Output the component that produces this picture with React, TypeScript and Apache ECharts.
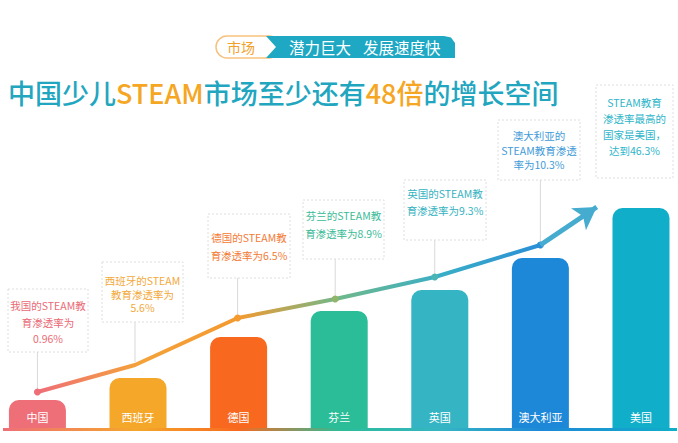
import React, { useEffect, useRef } from "react";
import * as echarts from "echarts";

const categories = ["中国", "西班牙", "德国", "芬兰", "英国", "澳大利亚", "美国"];
// illustrative bar heights (visual index, not proportional to the rates)
const barHeights = [28, 50, 91, 117, 138, 170, 220];
const barColors = ["#ee6f78", "#f5a72a", "#f8691f", "#2bbd98", "#35b5c3", "#1e88d8", "#10aec8"];
// trend line through the countries (x = category position, y = visual index)
const lineX = [0, 0.97, 1.99, 2.96, 3.95, 5.0];
const lineY = [36, 63, 110, 129, 151, 183];
const lineDotColors = ["#ee6e78", "", "#f39a30", "#8fb46a", "#4ab5b5", "#2a8fd6"];
const arrowTip = [5.56, 221];
const annotationLines = [
  ["我国的STEAM教", "育渗透率为", "0.96%"],
  ["西班牙的STEAM", "教育渗透率为", "5.6%"],
  ["德国的STEAM教", "育渗透率为6.5%"],
  ["芬兰的STEAM教", "育渗透率为8.9%"],
  ["英国的STEAM教", "育渗透率为9.3%"],
  ["澳大利亚的", "STEAM教育渗透", "率为10.3%"],
  ["STEAM教育", "渗透率最高的", "国家是美国，", "达到46.3%"],
];
const annotationColors = ["#ea6a75", "#f2a93b", "#f37a35", "#3bbb98", "#36b2c2", "#3f9bd8", "#2eb5c9"];

const boxLayout = [
  { x: 8, y: 289, w: 80, h: 63, ty: 322, lh: 16.5 },
  { x: 102, y: 262, w: 81, h: 60, ty: 294, lh: 13.5 },
  { x: 208, y: 214, w: 82, h: 64, ty: 246, lh: 18 },
  { x: 303, y: 200, w: 81, h: 59, ty: 224, lh: 18 },
  { x: 404, y: 180, w: 82, h: 60, ty: 202, lh: 17 },
  { x: 498, y: 120, w: 82, h: 60, ty: 150, lh: 14.5 },
  { x: 596, y: 85, w: 77, h: 93, ty: 126, lh: 16 },
];

const FONT = '"Noto Sans CJK SC", "Noto Sans", sans-serif';
const X_MIN = -0.372;
const X_MAX = 6.368;

export default function App() {
  const ref = useRef<HTMLDivElement>(null);
  useEffect(() => {
    if (!ref.current) return;
    const chart = echarts.init(ref.current, null, { renderer: "svg" });
    const lineGrad = new echarts.graphic.LinearGradient(0, 0, 1, 0, [
      { offset: 0, color: "#ee6e78" },
      { offset: 0.2, color: "#f4a23a" },
      { offset: 0.4, color: "#f39a30" },
      { offset: 0.6, color: "#6fb88a" },
      { offset: 0.8, color: "#3aaec6" },
      { offset: 1, color: "#2a8fd6" },
    ]);
    chart.setOption({
      animation: false,
      backgroundColor: "#ffffff",
      textStyle: { fontFamily: FONT },
      grid: { left: 0, right: 0, top: 128, bottom: 15, containLabel: false },
      xAxis: { type: "value", min: X_MIN, max: X_MAX, show: false },
      yAxis: { type: "value", min: 0, max: 300, show: false },
      series: [
        {
          type: "bar",
          barWidth: 57,
          data: barHeights.map((v, i) => ({ value: [i, v], itemStyle: { color: barColors[i] } })),
          itemStyle: { borderRadius: [10, 10, 0, 0] },
          label: {
            show: true,
            position: "insideBottom",
            distance: 6,
            formatter: (p: any) => categories[p.dataIndex],
            color: "#ffffff",
            fontSize: 11,
            fontFamily: FONT,
          },
          z: 2,
        },
        {
          type: "line",
          data: lineX.map((x, i) => ({
            value: [x, lineY[i]],
            symbolSize: lineDotColors[i] ? 7 : 0,
            itemStyle: { color: lineDotColors[i] || "#f4a23a" },
          })),
          symbol: "circle",
          showSymbol: true,
          lineStyle: { width: 4, color: lineGrad },
          z: 4,
          markLine: {
            silent: true,
            symbol: ["none", "arrow"],
            symbolSize: [20, 22],
            label: { show: false },
            lineStyle: { color: "#45acd0", width: 5, type: "solid" },
            data: [[{ coord: [lineX[5], lineY[5]] }, { coord: arrowTip }]],
          },
        },
      ],
    });

    const graphic: any[] = [];
    // header pill
    graphic.push({
      type: "rect",
      shape: { x: 216, y: 36, width: 64, height: 22, r: 11 },
      style: { fill: "#ffffff", stroke: "#f6c27e", lineWidth: 1.5 },
    });
    graphic.push({
      type: "text",
      x: 241,
      y: 47,
      style: { text: "市场", fill: "#f2a12a", fontSize: 14, fontFamily: FONT, align: "center", verticalAlign: "middle" },
    });
    graphic.push({
      type: "polygon",
      shape: {
        points: [
          [266, 36],
          [444, 36],
          [451, 37.5],
          [455, 43],
          [455, 58],
          [266, 58],
          [276, 47],
        ],
      },
      style: { fill: "#1ea8c3" },
    });
    graphic.push({
      type: "text",
      x: 289,
      y: 47,
      style: { text: "潜力巨大", fill: "#ffffff", fontSize: 15.5, fontFamily: FONT, align: "left", verticalAlign: "middle" },
    });
    graphic.push({
      type: "text",
      x: 363,
      y: 47,
      style: { text: "发展速度快", fill: "#ffffff", fontSize: 15.5, fontFamily: FONT, align: "left", verticalAlign: "middle" },
    });
    // title
    graphic.push({
      type: "text",
      x: 8,
      y: 92,
      style: {
        text: "{a|中国少儿}{b|STEAM}{a|市场至少还有}{b|48倍}{a|的增长空间}",
        align: "left",
        verticalAlign: "middle",
        rich: {
          a: { fill: "#22a6bf", color: "#22a6bf", fontSize: 27, fontWeight: 500, fontFamily: FONT },
          b: { fill: "#f5a623", color: "#f5a623", fontSize: 27, fontWeight: 500, fontFamily: FONT },
        },
      },
    });
    // bottom gradient strip
    graphic.push({
      type: "rect",
      shape: { x: 3, y: 428, width: 674, height: 3 },
      style: {
        fill: new echarts.graphic.LinearGradient(0, 0, 1, 0, [
          { offset: 0, color: "#ee6f78" },
          { offset: 0.2, color: "#f5a72a" },
          { offset: 0.35, color: "#f8691f" },
          { offset: 0.5, color: "#2bbd98" },
          { offset: 0.65, color: "#35b5c3" },
          { offset: 0.8, color: "#1e88d8" },
          { offset: 1, color: "#10aec8" },
        ]),
      },
    });
    // connectors
    lineX.forEach((x, i) => {
      const p = chart.convertToPixel({ gridIndex: 0 } as any, [x, lineY[i]]) as number[];
      const b = boxLayout[i];
      if (!p) return;
      graphic.push({
        type: "line",
        shape: { x1: p[0], y1: b.y + b.h, x2: p[0], y2: p[1] - 3 },
        style: { stroke: "#d9d9d9", lineWidth: 1 },
        z: 1,
      });
    });
    // annotation boxes
    boxLayout.forEach((b, i) => {
      graphic.push({
        type: "rect",
        shape: { x: b.x, y: b.y, width: b.w, height: b.h },
        style: { fill: "#ffffff", stroke: "#dedede", lineWidth: 1, lineDash: [2, 2] },
      });
      graphic.push({
        type: "text",
        x: b.x + b.w / 2,
        y: b.ty,
        style: {
          text: annotationLines[i].join("\n"),
          fill: annotationColors[i],
          fontSize: 10.5,
          lineHeight: b.lh,
          fontFamily: FONT,
          align: "center",
          verticalAlign: "middle",
        },
      });
    });
    chart.setOption({ graphic });
    return () => chart.dispose();
  }, []);
  return (
    <div
      ref={ref}
      style={{ position: "fixed", left: 0, top: 0, width: 678, height: 443, background: "#fff" }}
    />
  );
}
